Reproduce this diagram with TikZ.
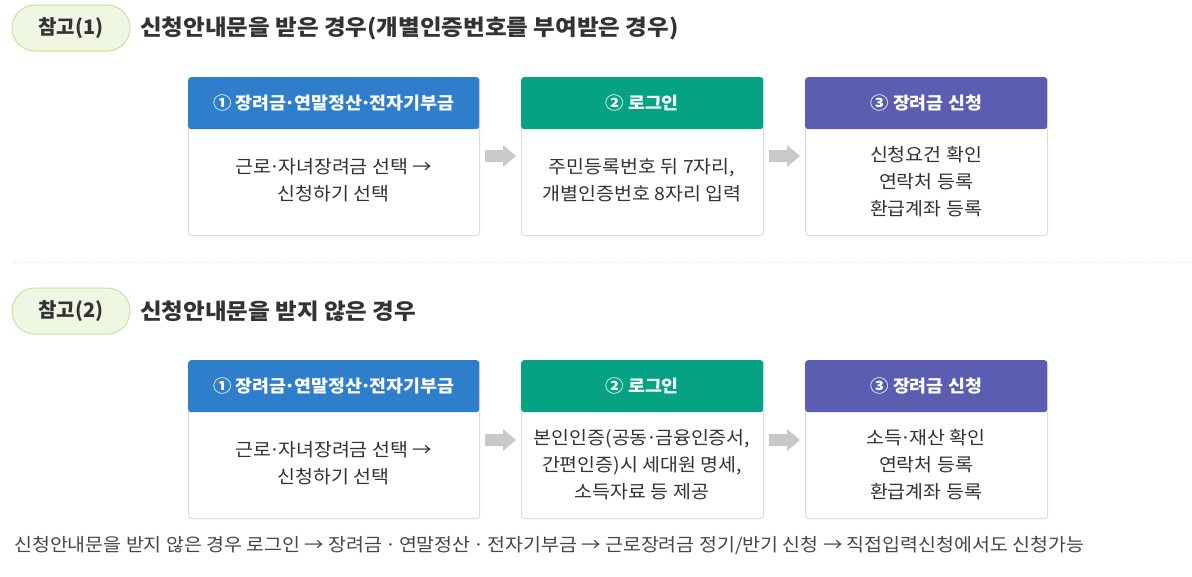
\documentclass[tikz,border=0pt]{standalone}
\usepackage{fontspec}
\setmainfont{Noto Sans CJK KR}
\newfontfamily\widefont{Noto Sans CJK KR}[FakeStretch=1.07]
\usetikzlibrary{calc}
\newcommand\tdot{\kern-0.1em·\kern-0.1em}
\definecolor{hblue}{HTML}{2F7ECB}
\definecolor{hgreen}{HTML}{05A384}
\definecolor{hpurple}{HTML}{5A5DB0}
\definecolor{pillfill}{HTML}{EFF7E3}
\definecolor{pillline}{HTML}{C6E59C}
\definecolor{txt}{HTML}{333333}
\definecolor{boxline}{HTML}{DDDDDD}
\definecolor{arrowgray}{HTML}{C9C9C9}
\tikzset{
  pill/.style={draw=pillline, fill=pillfill, line width=1pt, rounded corners=23pt, minimum width=118pt, minimum height=46pt, inner sep=0pt, font=\fontsize{20}{24}\selectfont\bfseries, text=txt},
  title/.style={anchor=west, inner sep=0pt, font=\widefont\fontsize{22}{26}\selectfont\bfseries, text=txt},
  bodybox/.style={draw=boxline, fill=white, line width=1pt, rounded corners=3pt, anchor=north west, inner sep=0pt},
  headbox/.style={rounded corners=3pt, anchor=north west, inner sep=0pt, text=white, font=\widefont\fontsize{17.2}{20}\selectfont\bfseries},
  bodytext/.style={align=center, inner sep=0pt, text=txt, font=\widefont\fontsize{18.2}{27}\selectfont},
  grayarrow/.pic={\fill[arrowgray] (-15,-6) -- (3,-6) -- (3,-11) -- (16,0) -- (3,11) -- (3,6) -- (-15,6) -- cycle;},
}
\begin{document}
\begin{tikzpicture}[x=1pt,y=-1pt]
\useasboundingbox[fill=white] (0,0) rectangle (1192,576);
% ---------- section 1 ----------
\node[pill] (p1) at (71,28) {참고(1)};
\node[title] (t1) at (140,28) {신청안내문을 받은 경우(개별인증번호를 부여받은 경우)};
% boxes row 1
\node[bodybox, minimum width=291pt, minimum height=158pt] (b1) at (188,77) {};
\node[headbox, fill=hblue, minimum width=291pt, minimum height=52pt] (h1) at (188,77) {① 장려금\tdot 연말정산\tdot 전자기부금};
\node[bodytext] (c1) at (333.5,180) {근로\tdot 자녀장려금 선택 →\\신청하기 선택};
\node[bodybox, minimum width=242pt, minimum height=158pt] (b2) at (521,77) {};
\node[headbox, fill=hgreen, minimum width=242pt, minimum height=52pt] (h2) at (521,77) {② 로그인};
\node[bodytext] (c2) at (642,180) {주민등록번호 뒤 7자리,\\개별인증번호 8자리 입력};
\node[bodybox, minimum width=242pt, minimum height=158pt] (b3) at (805,77) {};
\node[headbox, fill=hpurple, minimum width=242pt, minimum height=52pt] (h3) at (805,77) {③ 장려금 신청};
\node[bodytext] (c3) at (926,182) {신청요건 확인\\연락처 등록\\환급계좌 등록};
\coordinate (a1) at (500,156);
\coordinate (a2) at (784,156);
\pic at (a1) {grayarrow};
\pic at (a2) {grayarrow};
% separator
\draw[boxline, line width=1pt, dotted] (12,262) -- (1192,262);
% ---------- section 2 ----------
\node[pill] (p2) at (71,311) {참고(2)};
\node[title] (t2) at (140,311) {신청안내문을 받지 않은 경우};
\node[bodybox, minimum width=291pt, minimum height=158pt] (d1) at (188,360) {};
\node[headbox, fill=hblue, minimum width=291pt, minimum height=52pt] (k1) at (188,360) {① 장려금\tdot 연말정산\tdot 전자기부금};
\node[bodytext] (e1) at (333.5,463) {근로\tdot 자녀장려금 선택 →\\신청하기 선택};
\node[bodybox, minimum width=242pt, minimum height=158pt] (d2) at (521,360) {};
\node[headbox, fill=hgreen, minimum width=242pt, minimum height=52pt] (k2) at (521,360) {② 로그인};
\node[bodytext] (e2) at (642,465) {본인인증(공동\tdot 금융인증서,\\간편인증)시 세대원 명세,\\소득자료 등 제공};
\node[bodybox, minimum width=242pt, minimum height=158pt] (d3) at (805,360) {};
\node[headbox, fill=hpurple, minimum width=242pt, minimum height=52pt] (k3) at (805,360) {③ 장려금 신청};
\node[bodytext] (e3) at (926,465) {소득\tdot 재산 확인\\연락처 등록\\환급계좌 등록};
\coordinate (a3) at (500,440);
\coordinate (a4) at (784,440);
\pic at (a3) {grayarrow};
\pic at (a4) {grayarrow};
% footer
\node[anchor=west, inner sep=0pt, text=txt!90, font=\widefont\fontsize{18.2}{20}\selectfont] (f) at (14,546) {신청안내문을 받지 않은 경우 로그인 → 장려금 \kern-0.08em·\kern-0.08em\ 연말정산 \kern-0.08em·\kern-0.08em\ 전자기부금 → 근로장려금 정기/반기 신청 → 직접입력신청에서도 신청가능};
\end{tikzpicture}
\end{document}
